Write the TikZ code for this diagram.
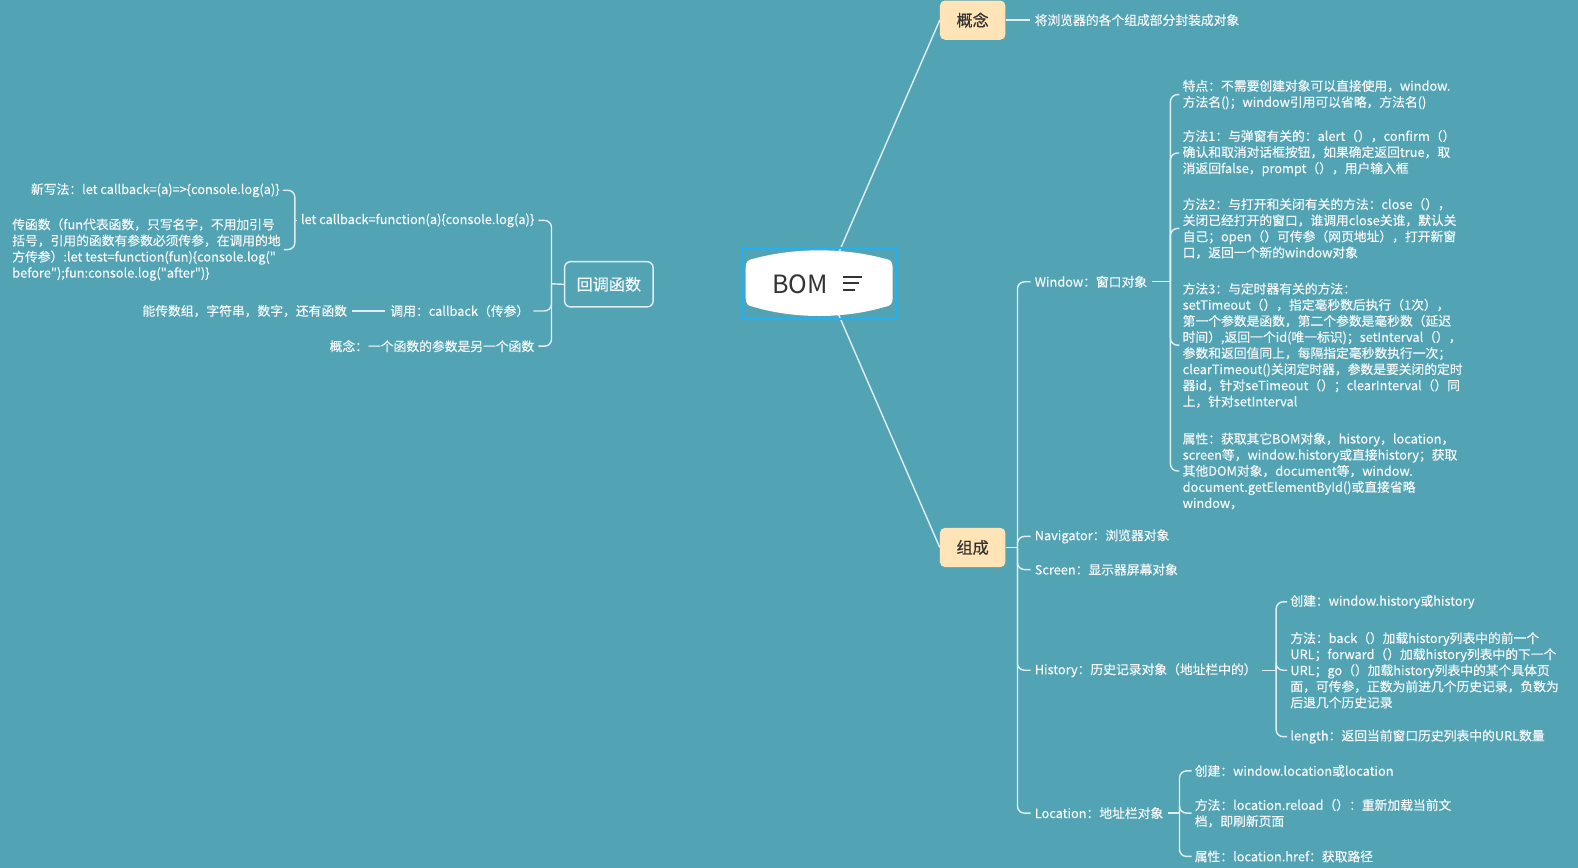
\documentclass[tikz,border=0pt]{standalone}
\usepackage{fontspec}
\newfontfamily\cjkf{Noto Sans CJK SC}[FakeBold=0.5]
\newfontfamily\cjkplain{Noto Sans CJK SC}
\definecolor{bgc}{RGB}{82,163,180}
\definecolor{linec}{RGB}{226,237,240}
\definecolor{txtc}{RGB}{244,248,249}
\definecolor{peach}{RGB}{255,228,183}
\definecolor{selc}{RGB}{36,176,245}
\definecolor{darkt}{RGB}{51,51,51}
\begin{document}
\begin{tikzpicture}[x=1pt,y=-1pt,
  conn/.style={draw=linec, line width=1.4pt, rounded corners=7pt},
  straight/.style={draw=linec, line width=1.4pt},
  txt/.style={text=txtc, font=\cjkf\fontsize{12.7}{16}\selectfont, inner sep=0pt, align=left},
  mainbox/.style={fill=peach, rounded corners=5pt, minimum width=65pt, minimum height=39pt, inner sep=0pt, font=\cjkf\fontsize{16}{20}\selectfont, text=darkt},
  floatbox/.style={draw=linec, line width=1.4pt, rounded corners=6pt, minimum width=88pt, minimum height=45pt, inner sep=0pt, font=\cjkf\fontsize{16}{20}\selectfont, text=txtc},
  icon/.style={draw=darkt, line width=1.6pt}]
\fill[bgc] (0,0) rectangle (1568,862);
\useasboundingbox (0,0) rectangle (1568,862);

% main branch nodes
\node[mainbox] (gn) at (966.5,20) {概念};
\node[mainbox] (zc) at (966.5,544) {组成};
\coordinate (bomc) at (820,282);
\draw[straight] (bomc) -- (gn.west);
\draw[straight] (bomc) -- (zc.west);

% central topic
\draw[draw=selc, line width=2pt] (738,246) rectangle (890,317);
\path[fill=white] (741,266) .. controls (741,260) and (743,258) .. (749,257)
  .. controls (790,246) and (838,246) .. (879,257)
  .. controls (885,258) and (887,260) .. (887,266)
  -- (887,296)
  .. controls (887,302) and (885,304) .. (879,305)
  .. controls (838,317) and (790,317) .. (749,305)
  .. controls (743,304) and (741,302) .. (741,296) -- cycle;
\node[font=\cjkplain\fontsize{25}{30}\selectfont, text=darkt, inner sep=0pt] (bom) at (795,282) {BOM};
\draw[icon] (838,275) -- (857,275);
\draw[icon] (838,281.5) -- (854,281.5);
\draw[icon] (838,288) -- (850,288);

% 概念
\node[txt, anchor=west] (gnt) at (1028,20) {将浏览器的各个组成部分封装成对象};
\draw[straight] (gn.east) -- ([xshift=-5pt]gnt.west);

% 组成 children
\node[txt, anchor=west] (win) at (1028,280) {Window：窗口对象};
\node[txt, anchor=west] (nav) at (1028,533) {Navigator：浏览器对象};
\node[txt, anchor=west] (scr) at (1028,566) {Screen：显示器屏幕对象};
\node[txt, anchor=west] (his) at (1028,666) {History：历史记录对象（地址栏中的）};
\node[txt, anchor=west] (loc) at (1028,808) {Location：地址栏对象};
\coordinate (zct) at (1011,544);
\draw[straight] (zc.east) -- (zct);
\foreach \c in {win,nav,scr,his,loc} \draw[conn] (zct) |- ([xshift=-4pt]\c.west);

% Window children
\node[txt, anchor=west] (w1) at (1175,94) {特点：不需要创建对象可以直接使用，window.\\方法名()；window引用可以省略，方法名()};
\node[txt, anchor=west] (w2) at (1175,152) {方法1：与弹窗有关的：alert（），confirm（）\\确认和取消对话框按钮，如果确定返回true，取\\消返回false，prompt（），用户输入框};
\node[txt, anchor=west] (w3) at (1175,227) {方法2：与打开和关闭有关的方法：close（），\\关闭已经打开的窗口，谁调用close关谁，默认关\\自己；open（）可传参（网页地址），打开新窗\\口，返回一个新的window对象};
\node[txt, anchor=west] (w4) at (1175,343) {方法3：与定时器有关的方法：\\setTimeout（），指定毫秒数后执行（1次），\\第一个参数是函数，第二个参数是毫秒数（延迟\\时间）,返回一个id(唯一标识)；setInterval（），\\参数和返回值同上，每隔指定毫秒数执行一次；\\clearTimeout()关闭定时器，参数是要关闭的定时\\器id，针对seTimeout（）；clearInterval（）同\\上，针对setInterval};
\node[txt, anchor=west] (w5) at (1175,468) {属性：获取其它BOM对象，history，location，\\screen等，window.history或直接history；获取\\其他DOM对象，document等，window.\\document.getElementById()或直接省略\\window，};
\coordinate (wt) at (1163,280);
\draw[straight] ([xshift=5pt]win.east) -- (wt);
\foreach \c in {w1,w2,w3,w4,w5} \draw[conn] (wt) |- ([xshift=-3pt]\c.west);

% History children
\node[txt, anchor=west] (h1) at (1282,598) {创建：window.history或history};
\node[txt, anchor=west] (h2) at (1282,666) {方法：back（）加载history列表中的前一个\\URL；forward（）加载history列表中的下一个\\URL；go（）加载history列表中的某个具体页\\面，可传参，正数为前进几个历史记录，负数为\\后退几个历史记录};
\node[txt, anchor=west] (h3) at (1282,732) {length：返回当前窗口历史列表中的URL数量};
\coordinate (ht) at (1268,666);
\draw[straight] ([xshift=5pt]his.east) -- (ht);
\foreach \c in {h1,h2,h3} \draw[conn] (ht) |- ([xshift=-3pt]\c.west);

% Location children
\node[txt, anchor=west] (l1) at (1187,766) {创建：window.location或location};
\node[txt, anchor=west] (l2) at (1187,808) {方法：location.reload（）：重新加载当前文\\档，即刷新页面};
\node[txt, anchor=west] (l3) at (1187,851) {属性：location.href：获取路径};
\coordinate (lt) at (1172,808);
\draw[straight] ([xshift=5pt]loc.east) -- (lt);
\foreach \c in {l1,l2,l3} \draw[conn] (lt) |- ([xshift=-3pt]\c.west);

% 回调函数 (floating topic)
\node[floatbox] (hd) at (605,282.5) {回调函数};
\node[txt, anchor=east] (cb) at (531,219) {let callback=function(a)\{console.log(a)\}};
\node[txt, anchor=east] (dy) at (526,309) {调用：callback（传参）};
\node[txt, anchor=east] (gn2) at (531,344) {概念：一个函数的参数是另一个函数};
\coordinate (hdt) at (548,282);
\draw[straight] (hd.west) -- (hdt);
\foreach \c in {cb,dy,gn2} \draw[conn] (hdt) |- ([xshift=4pt]\c.east);

\node[txt, anchor=east] (xxf) at (278,189) {新写法：let callback=(a)=>\{console.log(a)\}};
\node[txt, anchor=west] (chs) at (12,248) {传函数（fun代表函数，只写名字，不用加引号\\括号，引用的函数有参数必须传参，在调用的地\\方传参）:let test=function(fun)\{console.log("\\before");fun:console.log("after")\}};
\coordinate (cbt) at (293,219);
\draw[straight] ([xshift=-4pt]cb.west) -- (cbt);
\foreach \c in {xxf,chs} \draw[conn] (cbt) |- ([xshift=3pt]\c.east);

\node[txt, anchor=east] (nc) at (345,309) {能传数组，字符串，数字，还有函数};
\draw[straight] ([xshift=-5pt]dy.west) -- ([xshift=5pt]nc.east);
\end{tikzpicture}
\end{document}
